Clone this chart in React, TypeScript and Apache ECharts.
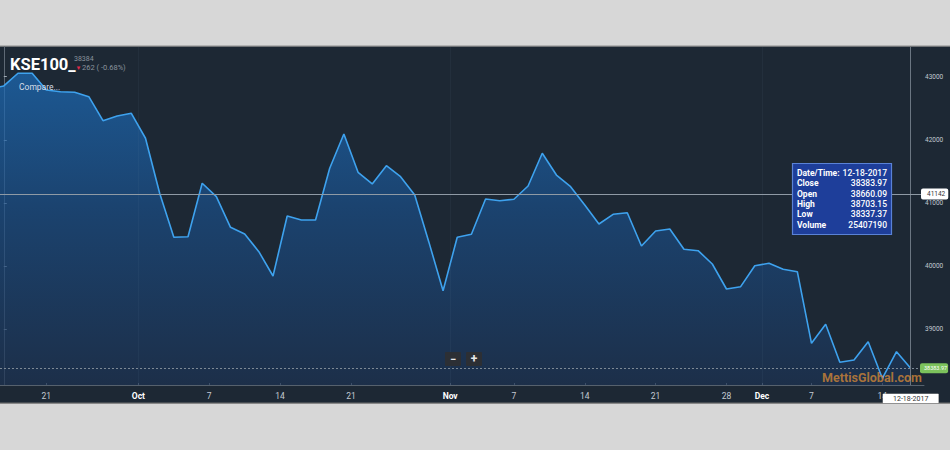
import React, { useEffect, useRef } from "react";
import * as echarts from "echarts";

// Daily closes of KSE100, first entry is Sep 15 2017 (index -1), last is Dec 18 2017 (index 64)
const closeValues: number[] = [
  42805, 42853, 43054, 43054, 42789, 42762, 42753, 42683, 42303, 42378, 42420,
  42025, 41154, 40457, 40466, 41312, 41100, 40615, 40509, 40229, 39844, 40794,
  40731, 40731, 41549, 42093, 41486, 41301, 41591, 41416, 41127, 40380, 39611,
  40457, 40504, 41063, 41036, 41059, 41269, 41787, 41443, 41258, 40968, 40667,
  40821, 40846, 40319, 40557, 40588, 40267, 40245, 40034, 39638, 39675, 40007,
  40045, 39950, 39912, 38778, 39079, 38477, 38514, 38804, 38224, 38646, 38383.97,
];
const firstIndex = -1;

// x-axis ticks (trading-day positions) and labels
const xTickPos: number[] = [3, 9.5, 14.5, 19.5, 24.5, 31.5, 36, 41, 46, 51, 53.5, 57, 62];
const xTickLabels: string[] = ["21", "Oct", "7", "14", "21", "Nov", "7", "14", "21", "28", "Dec", "7", "14"];
const monthLabels: string[] = ["Oct", "Nov", "Dec"];
const monthBoundaries: number[] = [9.5, 31.5, 53.5];

const yTicks: number[] = [39000, 40000, 41000, 42000, 43000];

const crosshairIndex = 64;
const crosshairDate = "12-18-2017";
const crosshairPrice = 41142;
const lastPrice = 38383.97;

const tooltipLabels: string[] = ["Date/Time:", "Close", "Open", "High", "Low", "Volume"];
const tooltipValues: string[] = ["12-18-2017", "38383.97", "38660.09", "38703.15", "38337.37", "25407190"];

const FONT = "Roboto, 'Noto Sans', sans-serif";

export default function App() {
  const ref = useRef<HTMLDivElement>(null);

  useEffect(() => {
    if (!ref.current) return;
    const chart = echarts.init(ref.current, null, { renderer: "svg" });

    const seriesData = closeValues.map((v, i) => [i + firstIndex, v]);

    const tipTexts: any[] = [];
    tooltipLabels.forEach((lab, i) => {
      tipTexts.push({
        type: "text",
        z: 20,
        x: 797,
        y: 172.7 + i * 10.4,
        style: {
          text: lab,
          fill: "#ffffff",
          font: `bold 8.5px ${FONT}`,
          textVerticalAlign: "middle",
        },
      });
      tipTexts.push({
        type: "text",
        z: 20,
        x: 887,
        y: 172.7 + i * 10.4,
        style: {
          text: tooltipValues[i],
          fill: "#ffffff",
          font: `500 8.5px ${FONT}`,
          textAlign: "right",
          textVerticalAlign: "middle",
        },
      });
    });

    const option: any = {
      animation: false,
      backgroundColor: "#d7d7d7",
      textStyle: { fontFamily: FONT },
      grid: { left: 0, right: 26, top: 47, bottom: 65, containLabel: false },
      xAxis: {
        type: "value",
        min: -0.268,
        max: 64.94,
        axisLine: { show: true, lineStyle: { color: "#56616d", width: 1 } },
        axisTick: {
          show: true,
          inside: true,
          length: 2,
          customValues: xTickPos,
          lineStyle: { color: "#8a95a0" },
        },
        axisLabel: {
          customValues: xTickPos,
          margin: 6,
          formatter: (v: number) => {
            const i = xTickPos.indexOf(v);
            const t = i >= 0 ? xTickLabels[i] : "";
            return monthLabels.includes(t) ? `{m|${t}}` : `{d|${t}}`;
          },
          rich: {
            m: { color: "#ffffff", fontWeight: "bold", fontSize: 8.5, fontFamily: FONT },
            d: { color: "#c3cad2", fontSize: 8.5, fontFamily: FONT },
          },
        },
        splitLine: { show: false },
      },
      yAxis: {
        type: "value",
        position: "right",
        min: 38118,
        max: 43470,
        axisLine: { show: true, lineStyle: { color: "#5e6975", width: 1 } },
        axisTick: { show: true, length: 3, customValues: yTicks, lineStyle: { color: "#a0aab4" } },
        axisLabel: {
          customValues: yTicks,
          margin: 1,
          color: "#c0c8d0",
          fontSize: 6.5,
          fontFamily: FONT,
          formatter: (v: number) => String(v),
        },
        splitLine: { show: false },
      },
      graphic: [
        { type: "rect", z: -10, shape: { x: 0, y: 46, width: 950, height: 357 }, style: { fill: "#1d2834" } },
        { type: "rect", z: -9, shape: { x: 0, y: 45.5, width: 950, height: 1.2 }, style: { fill: "#8e8e8e" } },
        { type: "rect", z: -9, shape: { x: 0, y: 402.5, width: 950, height: 1.2 }, style: { fill: "#6e6e6e" } },
        {
          type: "text",
          x: 10,
          y: 64,
          z: 10,
          style: { text: "KSE100_", fill: "#ffffff", font: `bold 16.5px ${FONT}`, textVerticalAlign: "middle" },
        },
        {
          type: "text",
          x: 74,
          y: 58.5,
          z: 10,
          style: { text: "38384", fill: "#8a939d", font: `7px ${FONT}`, textVerticalAlign: "middle" },
        },
        {
          type: "text",
          x: 75.5,
          y: 67.5,
          z: 10,
          style: { text: "▼", fill: "#e0284a", font: `6px ${FONT}`, textVerticalAlign: "middle" },
        },
        {
          type: "text",
          x: 82,
          y: 67.5,
          z: 10,
          style: { text: "262 ( -0.68%)", fill: "#8a939d", font: `7.5px ${FONT}`, textVerticalAlign: "middle" },
        },
        {
          type: "text",
          x: 19,
          y: 86.5,
          z: 10,
          style: { text: "Compare...", fill: "#d6dde6", font: `8.5px ${FONT}`, textVerticalAlign: "middle" },
        },
        // tooltip box
        {
          type: "rect",
          z: 10,
          shape: { x: 792.5, y: 163.5, width: 99, height: 71 },
          style: { fill: "#1e3e9a", stroke: "#5a82d6", lineWidth: 1.2 },
        },
        ...tipTexts,
        // zoom buttons
        {
          type: "rect",
          z: 10,
          shape: { x: 445, y: 352, width: 16, height: 14, r: 1 },
          style: { fill: "#2c2f34" },
        },
        {
          type: "rect",
          z: 10,
          shape: { x: 466, y: 352, width: 16, height: 14, r: 1 },
          style: { fill: "#2c2f34" },
        },
        {
          type: "text",
          x: 453,
          y: 359,
          z: 11,
          style: { text: "−", fill: "#e8e8e8", font: `bold 11px ${FONT}`, textAlign: "center", textVerticalAlign: "middle" },
        },
        {
          type: "text",
          x: 474,
          y: 359,
          z: 11,
          style: { text: "+", fill: "#e8e8e8", font: `bold 12px ${FONT}`, textAlign: "center", textVerticalAlign: "middle" },
        },
        // watermark
        {
          type: "text",
          x: 872,
          y: 377.5,
          z: 9,
          style: {
            text: "MettisGlobal.com",
            fill: "rgba(196,128,56,0.85)",
            font: `bold 12.5px ${FONT}`,
            textAlign: "center",
            textVerticalAlign: "middle",
          },
        },
      ],
      series: [
        {
          type: "line",
          data: seriesData,
          showSymbol: false,
          symbol: "none",
          lineStyle: { color: "#3ea2ee", width: 1.6 },
          areaStyle: {
            color: new echarts.graphic.LinearGradient(0, 0, 0, 1, [
              { offset: 0, color: "#1c6dbb" },
              { offset: 0.45, color: "#1a4d86" },
              { offset: 1, color: "#1c3252" },
            ]),
          },
          z: 2,
          markLine: {
            silent: true,
            symbol: "none",
            animation: false,
            data: [
              ...monthBoundaries.map((m) => ({
                xAxis: m,
                lineStyle: { color: "rgba(120,140,160,0.08)", width: 1, type: "solid" },
                label: { show: false },
              })),
              {
                xAxis: crosshairIndex,
                lineStyle: { color: "#6b7682", width: 1, type: "solid" },
                label: {
                  show: true,
                  position: "start",
                  distance: 9,
                  formatter: crosshairDate,
                  color: "#333333",
                  fontSize: 7,
                  fontFamily: FONT,
                  backgroundColor: "#ffffff",
                  borderColor: "#999999",
                  borderWidth: 0.5,
                  padding: [1, 10, 1, 10],
                },
              },
              {
                yAxis: crosshairPrice,
                lineStyle: { color: "#8f9aa5", width: 1, type: "solid" },
                label: {
                  show: true,
                  position: "end",
                  distance: -3,
                  formatter: String(crosshairPrice),
                  color: "#333333",
                  fontSize: 6.5,
                  fontFamily: FONT,
                  backgroundColor: "#ffffff",
                  borderRadius: 2,
                  padding: [2, 3, 2, 6],
                },
              },
              {
                yAxis: lastPrice,
                lineStyle: { color: "#7d8995", width: 1, type: [2, 2] },
                label: {
                  show: true,
                  position: "end",
                  distance: -4,
                  formatter: String(lastPrice),
                  color: "#ffffff",
                  fontSize: 5.5,
                  fontFamily: FONT,
                  backgroundColor: "#7cc25c",
                  borderRadius: 2,
                  padding: [2, 1, 2, 4],
                },
              },
            ],
          },
        },
      ],
    };

    chart.setOption(option);
    return () => chart.dispose();
  }, []);

  return (
    <div style={{ position: "fixed", left: 0, top: 0, width: 950, height: 450, margin: 0 }}>
      <div ref={ref} style={{ width: 950, height: 450 }} />
    </div>
  );
}
